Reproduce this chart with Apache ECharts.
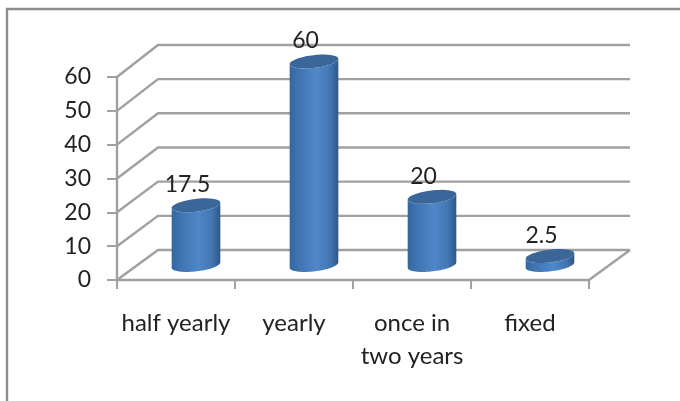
<!DOCTYPE html>
<html>
<head>
<meta charset="utf-8">
<style>html,body{margin:0;padding:0;background:#fff}#c{width:680px;height:401px}</style>
<script src="https://cdn.jsdelivr.net/npm/echarts@6/dist/echarts.min.js"></script>
</head>
<body>
<div id="c"></div>
<script>
const categories = ['half yearly', 'yearly', 'once in\ntwo years', 'fixed'];
const values = [17.5, 60, 20, 2.5];
const valueTicks = [0, 10, 20, 30, 40, 50, 60];

// Oblique projection of the chart box: the back wall sits up and to the right of the front plane.
const DEPTH_X = 41, DEPTH_Y = -30, WALL_STRETCH = 1.01;
const RX = 24.5, RY = 6.4, TILT = -0.12;
const LINE = '#a0a0a0', FONT = 'Lato, sans-serif', INK = '#222';
const LABEL_SIZE = 24, NUMBER_SIZE = 23;

function ellipsePoints(cx, cy, from, to) {
  const pts = [];
  for (let i = 0; i <= 40; i++) {
    const t = from + (to - from) * i / 40;
    const ex = RX * Math.cos(t), ey = RY * Math.sin(t);
    pts.push([cx + ex * Math.cos(TILT) - ey * Math.sin(TILT),
              cy + ex * Math.sin(TILT) + ey * Math.cos(TILT)]);
  }
  return pts;
}

function renderWall(params, api) {
  const v = api.value(0), cs = params.coordSys;
  const front = api.coord([0, v])[1], floor = api.coord([0, 0])[1];
  const left = cs.x, right = cs.x + cs.width;
  const backY = floor + DEPTH_Y - (floor - front) * WALL_STRETCH;
  const style = { stroke: LINE, lineWidth: 2.4, fill: null };
  const children = [
    { type: 'polyline', shape: { points: [[left, front], [left + DEPTH_X, backY], [right + DEPTH_X, backY]] }, style }
  ];
  if (v === 0) {
    children.push({ type: 'polyline', shape: { points: [[right, front], [right + DEPTH_X, backY]] }, style });
  }
  return { type: 'group', children };
}

function renderCylinder(params, api) {
  const band = api.coord([api.value(0), 0]);
  const top = api.coord([api.value(0), api.value(1)]);
  const cx = band[0] + DEPTH_X / 2 - 0.5, baseY = band[1] + DEPTH_Y / 2, topY = top[1] + DEPTH_Y / 2 - 0.5;
  const body = ellipsePoints(cx, topY, Math.PI, 0).concat(ellipsePoints(cx, baseY, 0, Math.PI));
  const gradient = new echarts.graphic.LinearGradient(0, 0, 1, 0, [
    { offset: 0, color: '#35669f' }, { offset: 0.2, color: '#4075b4' },
    { offset: 0.55, color: '#4f87c8' }, { offset: 0.82, color: '#4377b3' },
    { offset: 1, color: '#2f5888' }
  ]);
  return {
    type: 'group',
    children: [
      { type: 'polygon', shape: { points: body }, style: { fill: gradient } },
      { type: 'polygon', shape: { points: ellipsePoints(cx, topY, 0, Math.PI * 2) }, style: { fill: '#3a6699' } },
      { type: 'text', style: { text: String(api.value(1)), x: cx - 8.5, y: topY - 20.5, align: 'center', verticalAlign: 'middle', fill: INK, font: NUMBER_SIZE + 'px ' + FONT } }
    ]
  };
}

const chart = echarts.init(document.getElementById('c'), null, { renderer: 'canvas' });
chart.setOption({
  animation: false,
  backgroundColor: '#fff',
  graphic: [{
    type: 'polyline', silent: true, z: 0,
    shape: { points: [[7, 401], [7, 9], [680, 9]] },
    style: { stroke: '#8c8c8c', lineWidth: 2.4, fill: null }
  }],
  grid: { left: 117, top: 77, right: 91, bottom: 121 },
  xAxis: {
    type: 'category',
    data: categories,
    axisLine: { lineStyle: { color: LINE, width: 2.4 } },
    axisTick: { show: true, length: 9, lineStyle: { color: LINE, width: 2 } },
    axisLabel: { color: INK, fontFamily: FONT, fontSize: LABEL_SIZE, margin: 27, lineHeight: 33, interval: 0 }
  },
  yAxis: {
    type: 'value', min: 0, max: 60, interval: 10,
    splitLine: { show: false },
    axisLine: { show: true, lineStyle: { color: LINE, width: 2.4 } },
    axisTick: { show: true, length: 10, lineStyle: { color: LINE, width: 2 } },
    axisLabel: { color: INK, fontFamily: FONT, fontSize: NUMBER_SIZE, margin: 26, padding: [3, 0, 0, 0] }
  },
  series: [
    { type: 'custom', name: 'walls', z: 1, silent: true, clip: false,
      renderItem: renderWall, data: valueTicks.map(v => [v]), encode: { y: 0 } },
    { type: 'custom', name: 'share', z: 3, silent: true, clip: false,
      renderItem: renderCylinder, data: values.map((v, i) => [i, v]), encode: { x: 0, y: 1 } }
  ]
});
</script>
</body>
</html>
